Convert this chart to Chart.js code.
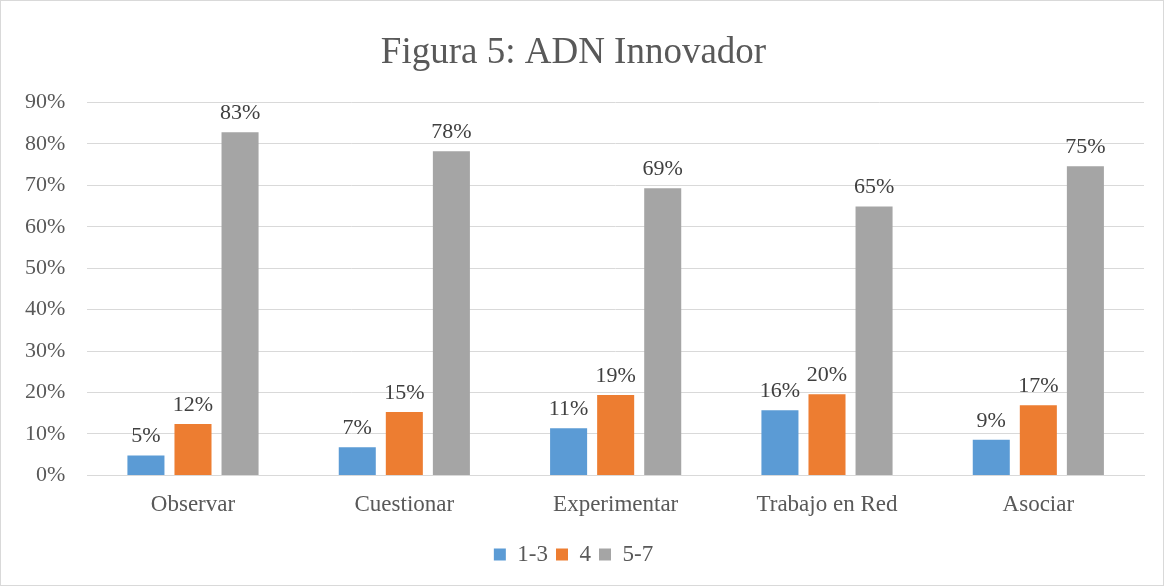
<!DOCTYPE html>
<html>
<head>
<meta charset="utf-8">
<script src="https://cdn.jsdelivr.net/npm/chart.js@4/dist/chart.umd.min.js"></script>
<style>
  html, body { margin:0; padding:0; background:#fff; }
  #wrap { position:relative; width:1162px; height:584px; border:1px solid #d9d9d9; }
</style>
</head>
<body>
<div id="wrap"><canvas id="chart"></canvas></div>
<script>
// Figura 5: ADN Innovador
const categories = ['Observar', 'Cuestionar', 'Experimentar', 'Trabajo en Red', 'Asociar'];
const seriesNames = ['1-3', '4', '5-7'];
const low = [4.8, 6.8, 11.4, 15.7, 8.6];     // 1-3
const mid = [12.4, 15.3, 19.4, 19.6, 16.9];  // 4
const high = [82.8, 78.2, 69.3, 64.9, 74.6]; // 5-7
const yTicks = [0, 10, 20, 30, 40, 50, 60, 70, 80, 90];
const colors = ['#5b9bd5', '#ed7d31', '#a5a5a5'];

const FONT = '"Liberation Serif", "Times New Roman", serif';
const TEXT = '#595959';

// value labels above bars
const valueLabels = {
  id: 'valueLabels',
  afterDatasetsDraw(chart){
    const ctx = chart.ctx;
    ctx.save();
    ctx.font = '22px ' + FONT;
    ctx.fillStyle = '#404040';
    ctx.textAlign = 'center';
    ctx.textBaseline = 'bottom';
    chart.data.datasets.forEach((ds, i)=>{
      chart.getDatasetMeta(i).data.forEach((bar, j)=>{
        ctx.fillText(Math.round(ds.data[j]) + '%', bar.x, bar.y - 8);
      });
    });
    ctx.restore();
  }
};

new Chart(document.getElementById('chart'), {
  type: 'bar',
  data: {
    labels: categories,
    datasets: [
      { label: seriesNames[0], data: low, backgroundColor: colors[0] },
      { label: seriesNames[1], data: mid, backgroundColor: colors[1] },
      { label: seriesNames[2], data: high, backgroundColor: colors[2] }
    ]
  },
  options: {
    responsive: true,
    maintainAspectRatio: false,
    animation: false,
    categoryPercentage: 0.668,
    barPercentage: 0.787,
    layout: { padding: { left: 2, right: 19, top: 10, bottom: 9 } },
    plugins: {
      title: {
        display: true,
        text: 'Figura 5: ADN Innovador',
        color: TEXT,
        font: { family: FONT, size: 37, weight: 'normal' },
        padding: { top: 20, bottom: 27 }
      },
      legend: {
        position: 'bottom',
        labels: {
          color: TEXT,
          font: { family: FONT, size: 23 },
          boxWidth: 12, boxHeight: 12,
          padding: 8
        }
      },
      tooltip: { enabled: false }
    },
    scales: {
      x: {
        grid: { display: false, drawTicks: false },
        border: { display: true, color: '#d9d9d9' },
        ticks: { color: TEXT, font: { family: FONT, size: 23 }, padding: 16 }
      },
      y: {
        min: 0, max: 90,
        afterBuildTicks: (axis)=>{ axis.ticks = yTicks.map(v=>({ value: v })); },
        grid: { color: '#d9d9d9', drawTicks: false },
        border: { display: false },
        ticks: { color: TEXT, font: { family: FONT, size: 22 }, padding: 22, callback: v => v + '%' }
      }
    }
  },
  plugins: [valueLabels]
});
</script>
</body>
</html>
